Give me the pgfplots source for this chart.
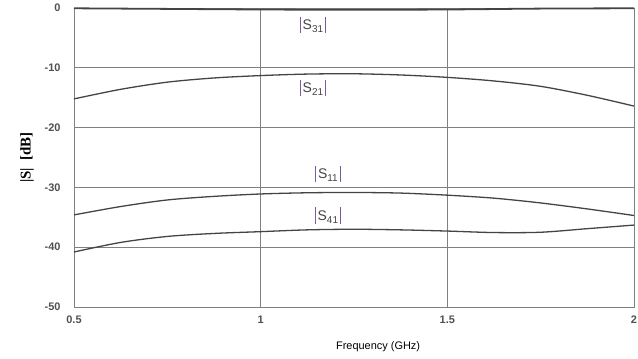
\documentclass[border=0pt]{standalone}
\usepackage{fontspec}
\setmainfont{Liberation Sans}
\newfontfamily\serifb{Liberation Serif}
\usepackage{pgfplots}
\pgfplotsset{compat=1.18}
\definecolor{curve}{HTML}{444444}
\definecolor{gridc}{HTML}{808080}
\definecolor{tickc}{HTML}{505050}
\definecolor{barc}{HTML}{7A5A9A}
\newcommand{\slab}[1]{{\color{barc}\rule[-0.25em]{0.7pt}{1.15em}}\,S\raisebox{-0.45ex}{\fontsize{10}{11}\selectfont #1}\,{\color{barc}\rule[-0.25em]{0.7pt}{1.15em}}}
\begin{document}
\begin{tikzpicture}
\begin{axis}[
  name=ax,
  scale only axis,
  width=560bp, height=299bp,
  xmin=0.5, xmax=2, ymin=-50, ymax=0,
  xtick={0.5,1,1.5,2}, ytick={0,-10,-20,-30,-40,-50},
  xticklabels={0.5,1,1.5,2},
  grid=major,
  major grid style={gridc, line width=0.8pt},
  axis line style={gridc, line width=0.8pt},
  tick style={draw=none},
  /pgf/number format/assume math mode=true,
  ticklabel style={font=\fontsize{11}{13}\selectfont\bfseries, text=tickc},
  yticklabel style={anchor=east, xshift=-10bp},
  xticklabel style={anchor=center, yshift=-13bp},
  xlabel={Frequency (GHz)},
  xlabel style={font=\fontsize{11}{13}\selectfont, at={(axis description cs:0.543,0)}, anchor=center, yshift=-40bp},
  ylabel={\serifb\bfseries |S|\ \ [dB]},
  ylabel style={font=\fontsize{15}{17}\selectfont, at={(axis description cs:-0.084,0.5)}, anchor=center, rotate=0},
  clip=false,
]
\addplot[curve, line width=1.8pt, smooth] coordinates {
 (0.5,-0.05) (0.75,-0.15) (1.0,-0.25) (1.25,-0.3) (1.5,-0.25) (1.75,-0.1) (2.0,-0.05)};
\addplot[curve, line width=1.3pt, smooth] coordinates {
 (0.5,-15.2) (0.625,-13.6) (0.75,-12.4) (0.875,-11.7) (1.0,-11.3) (1.125,-11.05) (1.25,-11.0)
 (1.375,-11.2) (1.5,-11.6) (1.625,-12.2) (1.75,-13.1) (1.875,-14.6) (2.0,-16.4)};
\addplot[curve, line width=1.3pt, smooth] coordinates {
 (0.5,-34.6) (0.625,-33.2) (0.75,-32.1) (0.875,-31.5) (1.0,-31.1) (1.125,-30.9) (1.25,-30.85)
 (1.375,-30.95) (1.5,-31.3) (1.625,-31.8) (1.75,-32.6) (1.875,-33.6) (2.0,-34.7)};
\addplot[curve, line width=1.3pt, smooth] coordinates {
 (0.5,-40.8) (0.625,-39.2) (0.75,-38.2) (0.875,-37.7) (1.0,-37.4) (1.125,-37.1) (1.25,-37.0)
 (1.375,-37.1) (1.5,-37.3) (1.625,-37.55) (1.75,-37.5) (1.875,-36.9) (2.0,-36.3)};
\node[font=\fontsize{14}{16}\selectfont, text=curve] at (axis cs:1.14,-2.8) {\slab{31}};
\node[font=\fontsize{14}{16}\selectfont, text=curve] at (axis cs:1.14,-13.3) {\slab{21}};
\node[font=\fontsize{14}{16}\selectfont, text=curve] at (axis cs:1.18,-27.7) {\slab{11}};
\node[font=\fontsize{14}{16}\selectfont, text=curve] at (axis cs:1.18,-34.7) {\slab{41}};
\end{axis}
\pgfresetboundingbox
\path ([xshift=-74bp,yshift=-52bp]ax.south west) rectangle ([xshift=4bp,yshift=8bp]ax.north east);
\end{tikzpicture}
\end{document}
